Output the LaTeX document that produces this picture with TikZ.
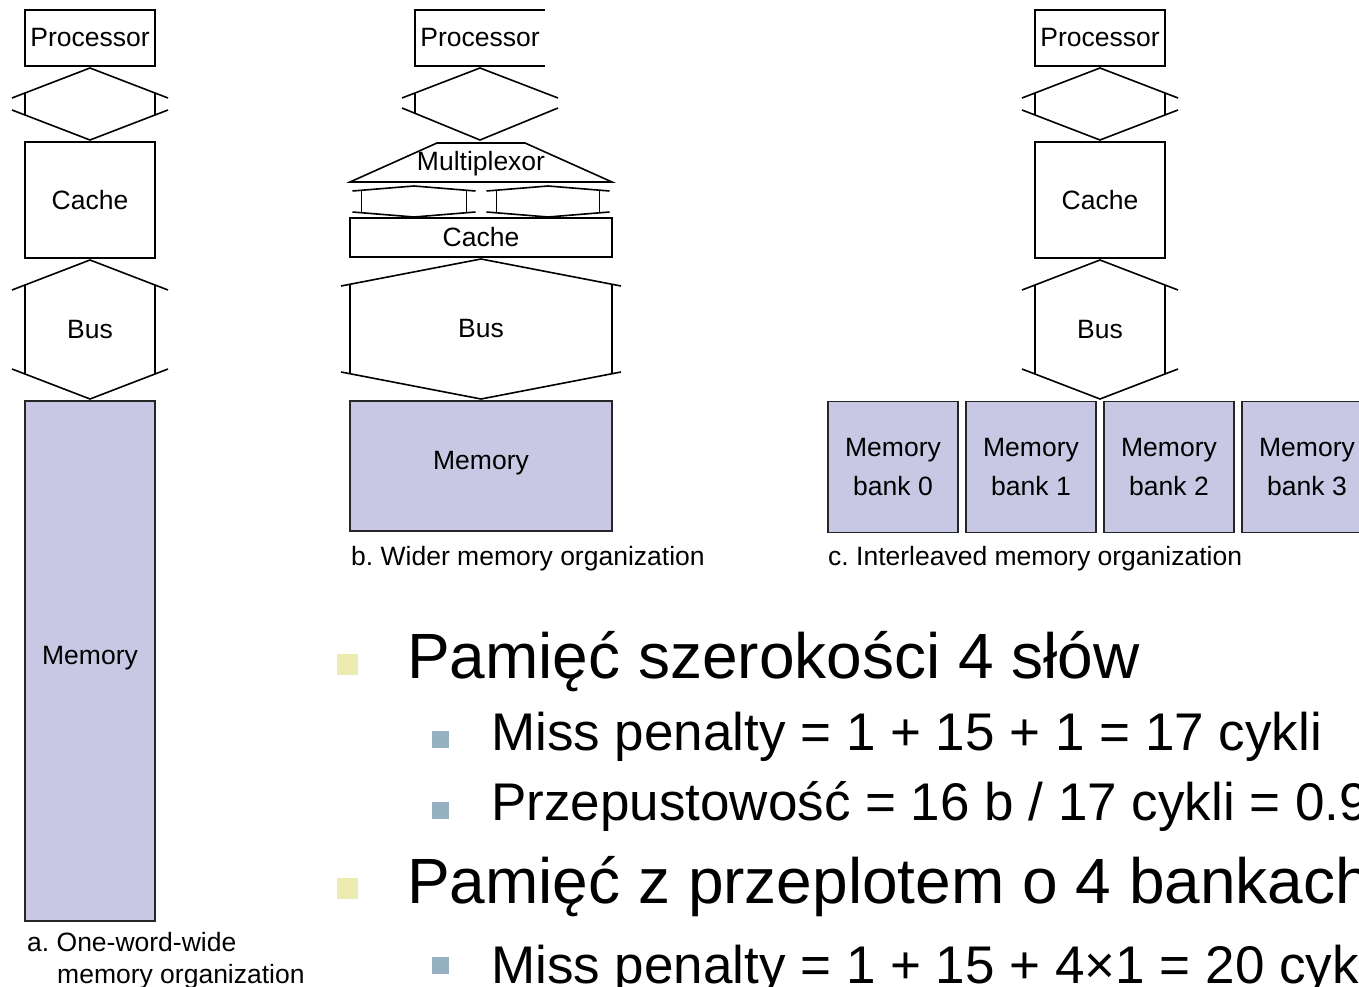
\documentclass[tikz,border=0pt]{standalone}
\usepackage{fontspec}
\setmainfont{Liberation Sans}
\usetikzlibrary{calc}
\definecolor{memfill}{RGB}{200,200,228}
\definecolor{bulyellow}{RGB}{236,236,178}
\definecolor{bulblue}{RGB}{150,177,194}
\tikzset{
  unit/.style={draw, line width=1.6pt, inner sep=0pt, outer sep=0pt, font=\fontsize{26.5}{30}\selectfont},
  mem/.style={unit, fill=memfill, draw=black!85},
  caption/.style={inner sep=0pt, anchor=west, font=\fontsize{26.5}{32}\selectfont},
  link/.style={line width=1.6pt},
  bigtext/.style={inner sep=0pt, anchor=base west, font=\fontsize{64}{70}\selectfont},
  subtext/.style={inner sep=0pt, anchor=base west, font=\fontsize{53}{60}\selectfont},
}
% two-way fat link: upper node, lower node, half width, overhang, head height
\newcommand{\fatlink}[5]{%
  \draw[link] ($(#1.south)+({-#3-#4},{2+#5})$) -- ($(#1.south)+(0,2)$) -- ($(#1.south)+({#3+#4},{2+#5})$);
  \draw[link] ($(#2.north)+({-#3-#4},{-2-#5})$) -- ($(#2.north)+(0,-2)$) -- ($(#2.north)+({#3+#4},{-2-#5})$);
  \draw[link] ($(#1.south)+(-#3,{2+#5*#3/(#3+#4)})$) -- ($(#2.north)+(-#3,{-2-#5*#3/(#3+#4)})$);
  \draw[link] ($(#1.south)+(#3,{2+#5*#3/(#3+#4)})$) -- ($(#2.north)+(#3,{-2-#5*#3/(#3+#4)})$);
}
\newcommand{\liftup}[1]{\raisebox{3pt}[\height][\depth]{#1}}

\begin{document}
\begin{tikzpicture}[x=1pt,y=-1pt]
    \useasboundingbox (0,0) rectangle (1359,987);

    % a. one-word-wide
    \node[unit, minimum width=130, minimum height=56] (procA) at (90,38) {Processor};
    \node[unit, minimum width=130, minimum height=116] (cacheA) at (90,200) {Cache};
    \node[mem, minimum width=130, minimum height=520] (memA) at (90,661) {\liftup{Memory}};
    \node[inner sep=0pt, font=\fontsize{26.5}{30}\selectfont] (busA) at (90,330) {Bus};
    \fatlink{procA}{cacheA}{65}{13}{30}
    \fatlink{cacheA}{memA}{65}{13}{30}
    \node[caption, align=left] (capA) at (27,961) {a.\ One-word-wide\\\hspace*{30pt}memory organization};

    % b. wider
    \node[unit, draw=none, minimum width=130, minimum height=56] (procB) at (480,38) {Processor};
    \draw[link] (procB.north east) -- (procB.north west) -- (procB.south west) -- (procB.south east);
    \draw[link] ($(procB.south)+(-78,32)$) -- ($(procB.south)+(0,2)$) -- ($(procB.south)+(78,32)$);
    \draw[link] ($(procB.south)+(-78,42)$) -- ($(procB.south)+(0,74)$) -- ($(procB.south)+(78,42)$);
    \draw[link] ($(procB.south)+(-65,27)$) -- ($(procB.south)+(-65,47)$);
    \draw[link] (350,182) -- (437,143) -- (525,143) -- (612,182) -- cycle;
    \node[inner sep=0pt, font=\fontsize{26.5}{30}\selectfont] (muxB) at (481,164) {Multiplexor};
    \node[unit, minimum width=262, minimum height=39] (cacheB) at (481,237.5) {Cache};
    \node[mem, minimum width=262, minimum height=130] (memB) at (481,466) {\liftup{Memory}};
    \node[inner sep=0pt, font=\fontsize{26.5}{30}\selectfont] (busB) at (481,329) {Bus};
    \coordinate (wl1) at (414,184);
    \coordinate (wl2) at (414,219);
    \coordinate (wr1) at (548,184);
    \coordinate (wr2) at (548,219);
    \fatlink{wl1}{wl2}{52.5}{9}{5}
    \fatlink{wr1}{wr2}{51.5}{10}{5}
    \fatlink{cacheB}{memB}{131}{9}{27}
    \node[caption] (capB) at (351,559) {b.\ Wider memory organization};

    % c. interleaved
    \node[unit, minimum width=130, minimum height=56] (procC) at (1100,38) {Processor};
    \node[unit, minimum width=130, minimum height=116] (cacheC) at (1100,200) {Cache};
    \foreach \i in {0,...,3}
        \node[mem, minimum width=130, minimum height=131, align=center, font=\fontsize{26.5}{39}\selectfont] (bank\i) at ({893+138*\i},467) {Memory\\bank \i};
    \coordinate (busCend) at (1100,401);
    \node[inner sep=0pt, font=\fontsize{26.5}{30}\selectfont] (busC) at (1100,330) {Bus};
    \fatlink{procC}{cacheC}{65}{13}{30}
    \fatlink{cacheC}{busCend}{65}{13}{30}
    \node[caption] (capC) at (828,559) {c.\ Interleaved memory organization};

    % bullets
    \node[fill=bulyellow, minimum size=21, inner sep=0pt] (dot1) at (347.5,664) {};
    \node[bigtext] (line1) at (407,678) {Pamięć szerokości 4 słów};
    \node[fill=bulblue, minimum size=17, inner sep=0pt] (dot2) at (440.5,739) {};
    \node[subtext] (line2) at (491,750) {Miss penalty = 1 + 15 + 1 = 17 cykli};
    \node[fill=bulblue, minimum size=17, inner sep=0pt] (dot3) at (440.5,810) {};
    \node[subtext] (line3) at (491,820) {Przepustowość = 16 b / 17 cykli = 0.9};
    \node[fill=bulyellow, minimum size=21, inner sep=0pt] (dot4) at (347.5,888.5) {};
    \node[bigtext] (line4) at (407,903) {Pamięć z przeplotem o 4 bankach};
    \node[fill=bulblue, minimum size=17, inner sep=0pt] (dot5) at (440.5,965) {};
    \node[subtext] (line5) at (491,983) {Miss penalty = 1 + 15 + 4×1 = 20 cykli};

\end{tikzpicture}
\end{document}
